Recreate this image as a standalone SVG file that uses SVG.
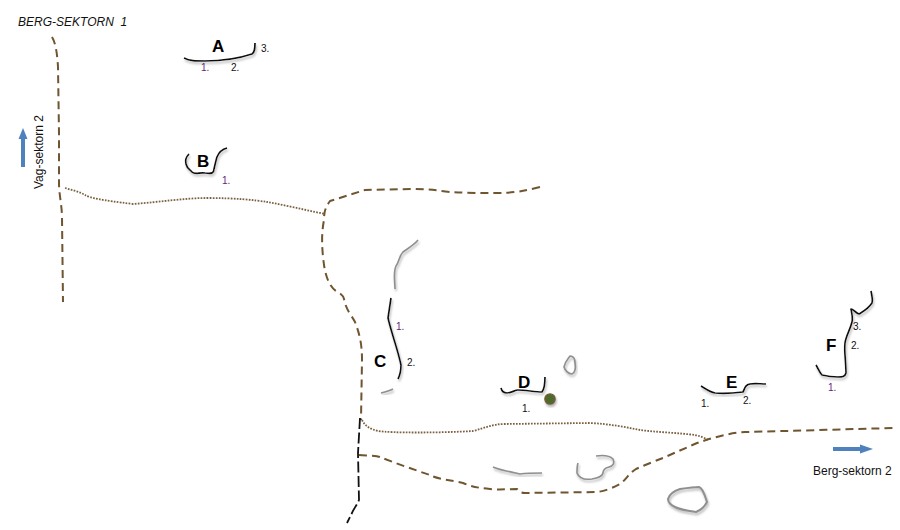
<svg xmlns="http://www.w3.org/2000/svg" width="900" height="530" viewBox="0 0 900 530">
<style>
text{font-family:"Liberation Sans",Arial,sans-serif;fill:#111}
.n{font-size:10px}
.L{font-size:17px;font-weight:bold;fill:#000}
.lb{font-size:12px}
path{fill:none;stroke-linecap:butt;stroke-linejoin:round}
.road{stroke:#6f5530;stroke-width:2;stroke-dasharray:8 5}
.dot{stroke:#7b6040;stroke-width:1.8;stroke-dasharray:1.7 1.3}
.bk{stroke:#111;stroke-width:1.8;stroke-dasharray:11 3.500}
.c{stroke:#111;stroke-width:1.7;filter:url(#s)}
.g{stroke:#8f8f8f;stroke-width:1.6;filter:url(#s)}
.p{fill:#6a1b7a}
</style>
<defs>
<filter id="s" x="-20%" y="-20%" width="140%" height="150%"><feDropShadow dx="1" dy="2.200" stdDeviation="0.8" flood-color="#b4b4b4"/></filter>
</defs>
<rect width="900" height="530" fill="#fff"/>
<g id="connectors">
<path class="road" d="M52 37C55 42 57 50 58 67L59 133L59 183C59 195 62 205 62 218L63 302"/>
<path class="dot" d="M65 188C72 190 80 192 85 195C90 198 100 200 133 204C160 202 185 198 207 198C235 198 255 200 267 202C285 205 305 210 325 214"/>
<path class="road" d="M540 187C525 191 512 193 500 193C480 193 465 193 450 192C435 190 425 189 413 189L365 190L330 201C325 208 324 212 324 220C321 235 322 250 324 265C326 278 330 287 336 291C340 293 343 295 344 299C346 310 352 316 355 322C360 335 362 345 362 360L361 420"/>
<path class="dot" d="M362 420C365 426 370 429 378 431C390 433 440 433 473 431C485 428 492 424 505 424L590 423C610 424 625 427 640 430C655 432 680 433 695 435C700 436 705 438 708 440"/>
<path class="bk" d="M360 418L358 453L359 500C357 505 353 510 352 513L347 523"/>
<path class="road" d="M359 455C365 456 375 455 380 457C395 463 415 470 430 475C437 479 450 480 463 483C472 487 480 488 490 489C500 490 510 489 517 489C519 491 520 493 525 493L597 492C606 491 614 487 620 484C626 480 628 474 636 469C645 465 655 461 663 458L697 443C712 438 728 433 745 432C790 431 850 429 897 428"/>
</g>
<g id="title"><text x="18" y="26" font-size="12" font-style="italic" xml:space="preserve">BERG-SEKTORN  1</text></g>
<g id="arrow-vag"><path d="M23 167V136" stroke="#4f81bd" stroke-width="4"/><polygon points="23,128 18.500,139 27.500,139" fill="#4f81bd"/></g>
<g id="label-vag"><text class="lb" transform="translate(43 189) rotate(-90)">Vag-sektorn 2</text></g>
<g id="arrow-berg"><path d="M833 449H862" stroke="#4f81bd" stroke-width="4"/><polygon points="873,449 860,444.500 860,453.500" fill="#4f81bd"/></g>
<g id="label-berg"><text class="lb" x="813" y="475">Berg-sektorn 2</text></g>
<g id="A">
<path class="c" d="M184 58C190 61 195 61 205 61C225 61 240 58 252 54C255 52 255 48 255 43"/>
<text class="L" x="212" y="52">A</text>
<text class="n p" x="201" y="71">1.</text><text class="n" x="231" y="71">2.</text><text class="n" x="261" y="52">3.</text>
</g>
<g id="B">
<path class="c" d="M189 154C186 157 185 160 186 164C187 169 191 170 192 172C195 175 200 172 205 173C212 174 214 173 214 169C215 165 216 160 217 157C219 152 223 149 227 148"/>
<text class="L" x="197" y="167">B</text>
<text class="n p" x="222" y="184">1.</text>
</g>
<g id="C">
<path class="c" d="M391 298L388 318C392 335 398 350 401 365C401 372 400 375 398 379"/>
<path class="g" d="M418 240C414 245 407 249 403 252C399 256 399 262 396 266C393 272 395 282 395 289"/>
<path class="g" d="M381 393C385 392 389 391 393 389"/>
<text class="L" x="374" y="367">C</text>
<text class="n p" x="396" y="330">1.</text><text class="n" x="407" y="366">2.</text>
</g>
<g id="D">
<path class="c" d="M501 388C502 392 504 393 507 393C511 393 515 390 518 390C525 390 535 392 542 392C545 388 545 382 545 377"/>
<circle cx="550" cy="399" r="5.200" fill="#4f6b2f" stroke="#7a5c30" stroke-width="1.300" filter="url(#s)"/>
<text class="L" x="518" y="388">D</text>
<text class="n" x="522" y="412">1.</text>
</g>
<g id="E">
<path class="c" d="M701 386C706 389 710 392 715 393C725 394 735 393 743 392C745 388 745 385 750 384C755 383 760 384 766 384"/>
<text class="L" x="726" y="388">E</text>
<text class="n" x="701" y="407">1.</text><text class="n" x="743" y="404">2.</text>
</g>
<g id="F">
<path class="c" d="M871 291C872 296 873 300 872 303C868 309 864 311 859 314C856 313 853 309 851 309C852 314 853 318 852 322C850 330 846 336 845 343C844 352 846 362 846 373C845 377 842 377 838 377C832 377 826 376 822 375C819 372 818 368 816 365"/>
<text class="L" x="826" y="351">F</text>
<text class="n p" x="828" y="391">1.</text><text class="n" x="851" y="349">2.</text><text class="n" x="853" y="330">3.</text>
</g>
<g id="terrain">
<path class="g" d="M570 356C573 356 575 358 575 363C576 368 575 373 572 374C568 374 565 370 564 367C565 362 567 360 570 356Z"/>
<path class="g" d="M493 467C500 470 510 472 520 474C527 473 535 473 542 473"/>
<path class="g" d="M596 456C603 455 610 456 613 459C615 463 613 466 609 467C605 468 603 470 603 473C602 477 598 478 592 479C585 480 579 478 577 473C577 469 577 466 578 463"/>
<path class="g" style="stroke-width:2" d="M668 499C669 495 674 491 680 489C687 488 694 487 699 487C703 488 705 496 707 502C705 506 701 510 696 512C689 511 681 510 675 507C671 505 668 503 668 499Z"/>
</g>
</svg>
